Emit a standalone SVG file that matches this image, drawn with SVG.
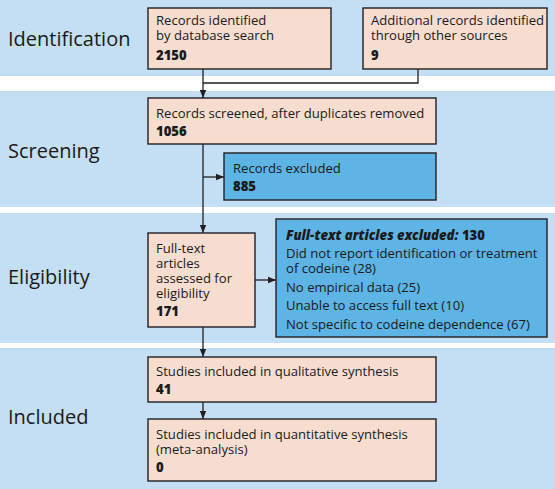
<svg xmlns="http://www.w3.org/2000/svg" width="555" height="489" viewBox="0 0 555 489">
<style>
.band{fill:#c4def3}
.box{fill:#f6ddd0;stroke:#231f20;stroke-width:1.4}
.bbox{fill:#5db4e5;stroke:#231f20;stroke-width:1.4}
.lbl{font-family:"Open Sans","Liberation Sans",sans-serif;font-size:20px;fill:#1a1a1a}
.t{font-family:"Open Sans","Liberation Sans",sans-serif;font-size:13.1px;fill:#1a1a1a}
.n{font-weight:800}
.con{fill:none;stroke:#231f20;stroke-width:1.3}
</style>
<defs>
<marker id="ah" viewBox="0 0 8 8" refX="8" refY="4" markerWidth="8" markerHeight="8" markerUnits="userSpaceOnUse" orient="auto">
<path d="M0,0.8 L8,4 L0,7.2 Z" fill="#231f20"/>
</marker>
</defs>
<g id="bands">
<rect class="band" x="0" y="0" width="555" height="76"/>
<rect class="band" x="0" y="91" width="555" height="116"/>
<rect class="band" x="0" y="213" width="555" height="130"/>
<rect class="band" x="0" y="348" width="555" height="141"/>
<text class="lbl" x="8" y="46">Identification</text>
<text class="lbl" x="8" y="158">Screening</text>
<text class="lbl" x="8" y="284">Eligibility</text>
<text class="lbl" x="8" y="424">Included</text>
</g>
<g id="connectors">
<path class="con" d="M418,69 V83 H203"/>
<path class="con" d="M203,69 V98" marker-end="url(#ah)"/>
<path class="con" d="M203,144 V233" marker-end="url(#ah)"/>
<path class="con" d="M203,177 H224" marker-end="url(#ah)"/>
<path class="con" d="M255,280 H276" marker-end="url(#ah)"/>
<path class="con" d="M203,327 V357" marker-end="url(#ah)"/>
<path class="con" d="M203,402 V419" marker-end="url(#ah)"/>
</g>
<g id="db">
<rect class="box" x="148" y="8" width="183" height="61"/>
<text class="t" x="156" y="25">Records identified<tspan x="156" dy="15">by database search</tspan><tspan class="n" x="156" dy="20">2150</tspan></text>
</g>
<g id="other">
<rect class="box" x="363" y="8" width="184" height="61"/>
<text class="t" x="371" y="25">Additional records identified<tspan x="371" dy="15">through other sources</tspan><tspan class="n" x="371" dy="20">9</tspan></text>
</g>
<g id="screened">
<rect class="box" x="148" y="98" width="288" height="46"/>
<text class="t" x="156" y="118">Records screened, after duplicates removed<tspan class="n" x="156" dy="18">1056</tspan></text>
</g>
<g id="excluded">
<rect class="bbox" x="224" y="153" width="212" height="47"/>
<text class="t" x="233" y="173">Records excluded<tspan class="n" x="233" dy="18">885</tspan></text>
</g>
<g id="fulltext">
<rect class="box" x="148" y="233" width="107" height="94"/>
<text class="t" x="156" y="253">Full-text<tspan x="156" dy="15">articles</tspan><tspan x="156" dy="15">assessed for</tspan><tspan x="156" dy="15">eligibility</tspan><tspan class="n" x="156" dy="18">171</tspan></text>
</g>
<g id="ftexcluded">
<rect class="bbox" x="276" y="219" width="271" height="118"/>
<text class="t" x="286" y="240"><tspan class="n" font-style="italic">Full-text articles excluded:</tspan><tspan class="n"> 130</tspan><tspan x="286" dy="18">Did not report identification or treatment</tspan><tspan x="286" dy="15">of codeine (28)</tspan><tspan x="286" dy="19">No empirical data (25)</tspan><tspan x="286" dy="18">Unable to access full text (10)</tspan><tspan x="286" dy="19">Not specific to codeine dependence (67)</tspan></text>
</g>
<g id="qual">
<rect class="box" x="148" y="357" width="288" height="45"/>
<text class="t" x="156" y="376">Studies included in qualitative synthesis<tspan class="n" x="156" dy="18">41</tspan></text>
</g>
<g id="quant">
<rect class="box" x="148" y="419" width="288" height="62"/>
<text class="t" x="156" y="439">Studies included in quantitative synthesis<tspan x="156" dy="15">(meta-analysis)</tspan><tspan class="n" x="156" dy="18">0</tspan></text>
</g>
</svg>
